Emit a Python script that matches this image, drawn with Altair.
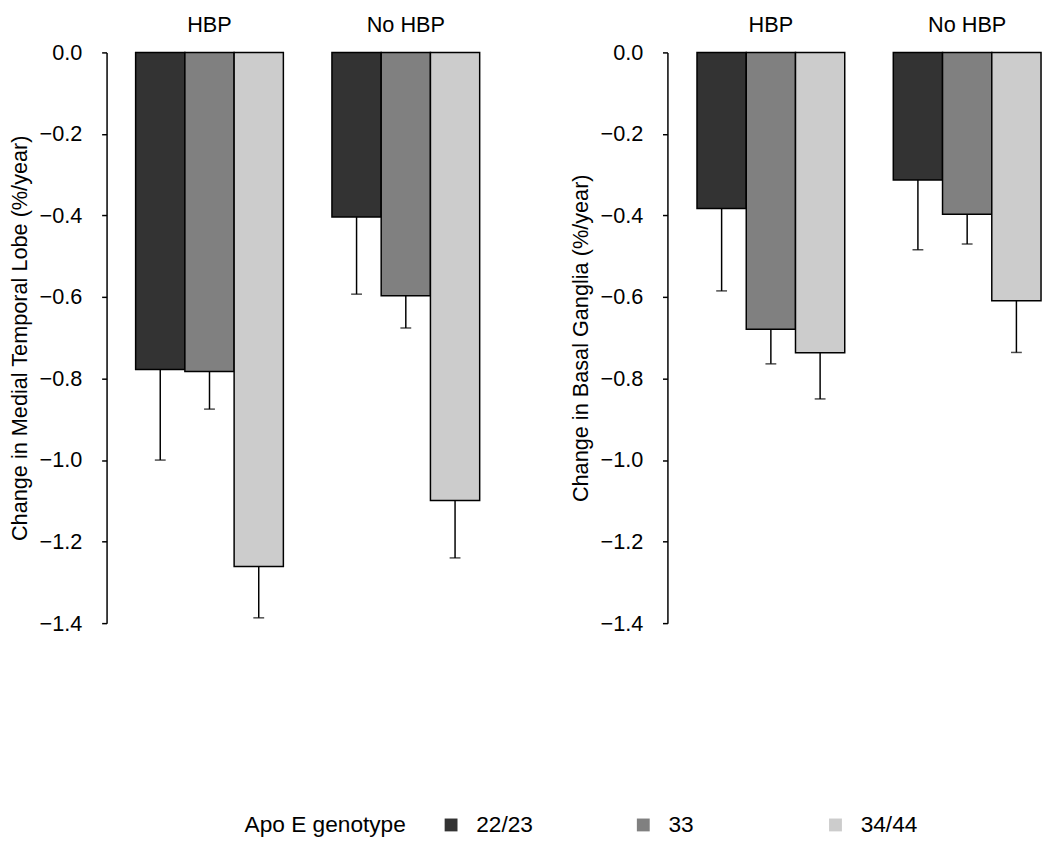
import altair as alt
import pandas as pd

groups = ["HBP", "HBP", "HBP", "No HBP", "No HBP", "No HBP"]
genotypes = ["22/23", "33", "34/44", "22/23", "33", "34/44"]
genotype_order = ["22/23", "33", "34/44"]
genotype_colors = ["#333333", "#808080", "#cccccc"]

mtl_mean = [-0.778, -0.783, -1.261, -0.404, -0.597, -1.099]
mtl_err = [-1.000, -0.875, -1.387, -0.593, -0.676, -1.240]
bg_mean = [-0.383, -0.679, -0.737, -0.313, -0.397, -0.609]
bg_err = [-0.585, -0.764, -0.850, -0.484, -0.470, -0.736]

y_ticks = [0.0, -0.2, -0.4, -0.6, -0.8, -1.0, -1.2, -1.4]
FONT = "Liberation Sans"


def make_df(means, errs):
    return pd.DataFrame({"group": groups, "genotype": genotypes,
                         "value": means, "err": errs})


def panel(df, title, align_last=False):
    base = alt.Chart(df)
    if align_last:
        xscale = alt.Scale(paddingInner=0.2474, paddingOuter=0.0753, align=1)
    else:
        xscale = alt.Scale(paddingInner=0.2474, paddingOuter=0.148)
    xaxis = alt.Axis(orient="top", title=None, domain=False, ticks=False,
                     labelFontSize=22, labelFont=FONT, labelColor="black",
                     labelPadding=16, labelAngle=0)
    xo = alt.XOffset("genotype:N", sort=genotype_order,
                     scale=alt.Scale(paddingInner=0, paddingOuter=0))
    yscale = alt.Scale(domain=[-1.4, 0], nice=False, zero=False)
    yaxis = alt.Axis(title=title, values=y_ticks, format=".1f",
                     grid=False, domainColor="black", domainWidth=1.5,
                     tickColor="black", tickWidth=1.5, tickSize=5,
                     labelFontSize=22, labelFont=FONT, labelColor="black",
                     labelPadding=20, titleFontSize=22, titleFont=FONT,
                     titleFontWeight="normal", titleColor="black",
                     titlePadding=8)
    color = alt.Color("genotype:N", sort=genotype_order,
                      scale=alt.Scale(domain=genotype_order, range=genotype_colors),
                      legend=alt.Legend(title="Apo E genotype", orient="none",
                                        legendX=140, legendY=772,
                                        direction="horizontal", titleOrient="left",
                                        titleFontSize=23, titleFont=FONT,
                                        titleFontWeight="normal", titleColor="black",
                                        titlePadding=34, labelFontSize=23,
                                        labelFont=FONT, labelColor="black",
                                        symbolType="square", symbolSize=170,
                                        symbolStrokeWidth=0, symbolOpacity=1,
                                        labelOffset=14, columnPadding=100,
                                        gridAlign="all"))
    xsort = ["HBP", "No HBP"]
    X = alt.X("group:N", scale=xscale, sort=xsort, axis=xaxis)
    bars = base.mark_bar(stroke="black", strokeWidth=1.5).encode(
        x=X, xOffset=xo,
        y=alt.Y("value:Q", scale=yscale, axis=yaxis),
        y2=alt.datum(0), color=color)
    rules = base.mark_rule(color="black", strokeWidth=1.5).encode(
        x=X, xOffset=xo,
        y=alt.Y("value:Q", scale=yscale, axis=yaxis), y2="err:Q")
    caps = base.mark_tick(color="black", thickness=1.5, size=11,
                          orient="horizontal").encode(
        x=X, xOffset=xo, y=alt.Y("err:Q", scale=yscale, axis=yaxis))
    return alt.layer(bars, rules, caps)


left = panel(make_df(mtl_mean, mtl_err),
             "Change in Medial Temporal Lobe (%/year)").properties(width=408, height=579)
right = panel(make_df(bg_mean, bg_err),
              "Change in Basal Ganglia (%/year)", align_last=True).properties(width=379, height=579)

chart = alt.hconcat(left, right, spacing=61).properties(padding=0).configure(
    font=FONT).configure_view(stroke=None)

chart.save("out.html", embed_options={"renderer": "svg", "actions": False})
